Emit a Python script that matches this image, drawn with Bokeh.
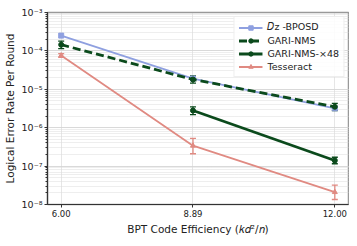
from bokeh.plotting import figure
from bokeh.models import (ColumnDataSource, Whisker, Legend, LegendItem, FixedTicker,
                          LogTicker, CustomJSTickFormatter, TeeHead)
from bokeh.embed import file_html
from bokeh.resources import INLINE

# ---- data ----
x_ticks = [6.0, 8.89, 12.0]
x_tick_labels = ["6.00", "8.89", "12.00"]

dz_x = [6.0, 8.89, 12.0]
dz_y = [2.5e-4, 1.9e-5, 3.2e-6]
dz_lo = [2.2e-4, 1.75e-5, 2.9e-6]
dz_hi = [2.8e-4, 2.05e-5, 3.5e-6]

nms_x = [6.0, 8.89, 12.0]
nms_y = [1.45e-4, 1.8e-5, 3.5e-6]
nms_lo = [1.15e-4, 1.45e-5, 2.8e-6]
nms_hi = [1.8e-4, 2.25e-5, 4.3e-6]

x48_x = [8.89, 12.0]
x48_y = [2.8e-6, 1.4e-7]
x48_lo = [2.2e-6, 1.15e-7]
x48_hi = [3.5e-6, 1.7e-7]

tess_x = [6.0, 8.89, 12.0]
tess_y = [7.6e-5, 3.4e-7, 2.1e-8]
tess_lo = [6.8e-5, 2.1e-7, 1.35e-8]
tess_hi = [8.5e-5, 5.3e-7, 3.2e-8]

BLUE = "#8fa0e0"
GREEN = "#0b4a1c"
RED = "#e08a82"

p = figure(frame_width=301, frame_height=192, y_axis_type="log", x_range=(5.7, 12.3),
           y_range=(1e-8, 1e-3), output_backend="svg", toolbar_location=None,
           min_border_left=39, min_border_right=1, min_border_top=12, min_border_bottom=26)
p.background_fill_color = "white"
p.outline_line_color = "#999999"
p.outline_line_width = 1.5

# axes
p.xaxis.ticker = FixedTicker(ticks=x_ticks)
p.xaxis.major_label_overrides = {t: l for t, l in zip(x_ticks, x_tick_labels)}
p.xaxis.axis_label = "BPT Code Efficiency (𝑘𝑑²/𝑛)"
p.yaxis.axis_label = "Logical Error Rate Per Round"
p.yaxis.ticker = LogTicker(desired_num_ticks=6, num_minor_ticks=10)
p.yaxis.formatter = CustomJSTickFormatter(code="""
const e = Math.round(Math.log10(tick));
const sup = {'-':'⁻','0':'⁰','1':'¹','2':'²','3':'³','4':'⁴','5':'⁵','6':'⁶','7':'⁷','8':'⁸','9':'⁹'};
return '10' + String(e).split('').map(c => sup[c]).join('');
""")
for ax in (p.xaxis[0], p.yaxis[0]):
    ax.axis_label_text_font = "DejaVu Sans"
    ax.axis_label_text_font_style = "normal"
    ax.axis_label_text_font_size = "10.5px"
    ax.axis_label_text_color = "#222222"
    ax.major_label_text_font = "DejaVu Sans"
    ax.major_label_text_font_size = "8.5px"
    ax.major_label_text_color = "#222222"
    ax.axis_line_color = "#333333"
    ax.axis_line_width = 1.2
    ax.major_tick_line_color = "#333333"
    ax.minor_tick_line_color = "#333333"
    ax.major_tick_out = 3
    ax.major_tick_in = 0
    ax.minor_tick_out = 2
    ax.minor_tick_in = 0
    ax.axis_label_standoff = 3
    ax.major_label_standoff = 2
p.yaxis.major_label_text_font_size = "9.5px"
p.xaxis.minor_tick_line_color = None

# grid
p.xgrid.grid_line_color = "#cccccc"
p.xgrid.grid_line_dash = "1 1"
p.ygrid.grid_line_color = "#cccccc"
p.ygrid.grid_line_dash = "1 1"
p.ygrid.minor_grid_line_color = "#dddddd"
p.ygrid.minor_grid_line_dash = "1 1"

def series(xs, ys, lo, hi, color, dash, lw, marker, msize, alpha, err=True):
    src = ColumnDataSource(dict(x=xs, y=ys, lo=lo, hi=hi))
    ln = p.line("x", "y", source=src, line_color=color, line_width=lw,
                line_dash=dash, line_alpha=alpha)
    if err:
        w = Whisker(base="x", lower="lo", upper="hi", source=src, line_color=color,
                    line_width=1.3, line_alpha=alpha,
                    upper_head=TeeHead(size=6, line_color=color, line_width=1.3, line_alpha=alpha),
                    lower_head=TeeHead(size=6, line_color=color, line_width=1.3, line_alpha=alpha))
        p.add_layout(w)
    sc = p.scatter("x", "y", source=src, marker=marker, size=msize, fill_color=color,
                   line_color=color, fill_alpha=alpha, line_alpha=alpha)
    return [ln, sc]

r_dz = series(dz_x, dz_y, dz_lo, dz_hi, BLUE, "solid", 1.8, "square", 5, 1.0, err=False)
r_nms = series(nms_x, nms_y, nms_lo, nms_hi, GREEN, "8 4", 2.8, "circle", 5, 1.0)
r_48 = series(x48_x, x48_y, x48_lo, x48_hi, GREEN, "solid", 2.8, "circle", 5, 1.0)
r_t = series(tess_x, tess_y, tess_lo, tess_hi, RED, "solid", 1.8, "triangle", 5, 1.0)

legend = Legend(items=[
    LegendItem(label="𝐷ᴢ -BPOSD", renderers=r_dz),
    LegendItem(label="GARI-NMS", renderers=r_nms),
    LegendItem(label="GARI-NMS-×48", renderers=r_48),
    LegendItem(label="Tesseract", renderers=r_t),
], location="top_right")
legend.label_text_font = "DejaVu Sans"
legend.label_text_font_size = "9.5px"
legend.label_text_color = "#222222"
legend.glyph_width = 24
legend.glyph_height = 11
legend.label_height = 11
legend.spacing = 2
legend.padding = 4
legend.margin = 4
legend.label_standoff = 5
legend.border_line_color = "#dddddd"
legend.background_fill_alpha = 0.85
p.add_layout(legend)

open("out.html", "w").write(file_html(p, INLINE))
